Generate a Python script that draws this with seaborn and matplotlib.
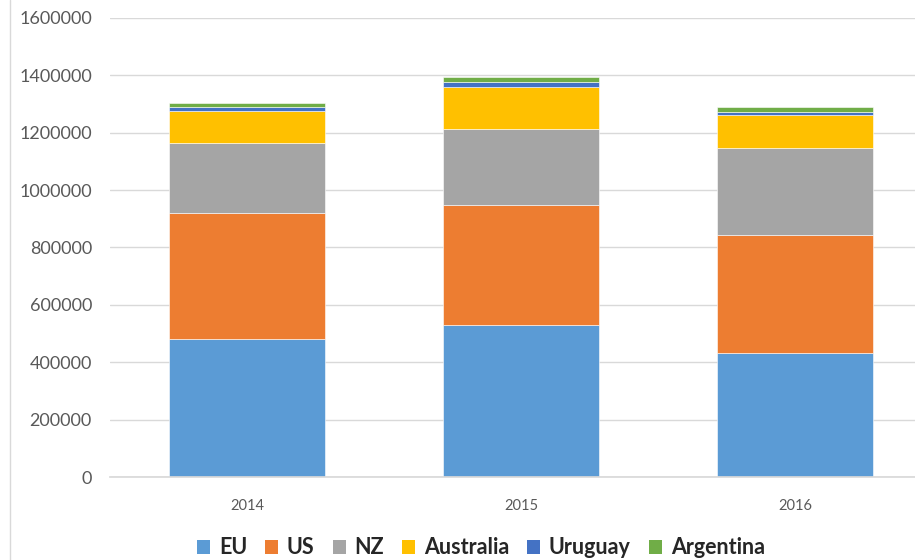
import numpy as np
import pandas as pd
import matplotlib
matplotlib.use("Agg")
import matplotlib.pyplot as plt
from matplotlib.lines import Line2D
from matplotlib.patches import Patch
import seaborn as sns

years = ["2014", "2015", "2016"]
series = ["EU", "US", "NZ", "Australia", "Uruguay", "Argentina"]
eu = [480000, 530000, 432000]
us = [440000, 418000, 412000]
nz = [244000, 265000, 302000]
australia = [113000, 145000, 115000]
uruguay = [14000, 19000, 10000]
argentina = [12000, 17000, 18000]
colors = ["#5B9BD5", "#ED7D31", "#A5A5A5", "#FFC000", "#4472C4", "#70AD47"]

values = [eu, us, nz, australia, uruguay, argentina]

sns.set_theme(style="white")
plt.rcParams['font.family'] = ['Lato', 'DejaVu Sans']

fig = plt.figure(figsize=(9.15, 5.6), dpi=100)
ax = fig.add_axes([110 / 915, 83 / 560, 822 / 915, 459 / 560])

bottom = np.zeros(len(years))
for name, vals, c in zip(series, values, colors):
    sns.barplot(x=years, y=vals, bottom=bottom, color=c, width=0.57,
                saturation=1, edgecolor="white", linewidth=0.4, ax=ax)
    bottom = bottom + np.array(vals)

ax.set_ylim(0, 1600000)
ax.set_yticks(np.arange(0, 1600001, 200000))
ax.set_yticklabels([str(v) for v in range(0, 1600001, 200000)])
ax.yaxis.grid(True, color="#D9D9D9", linewidth=1)
ax.set_axisbelow(True)
for s in ["top", "right", "left"]:
    ax.spines[s].set_visible(False)
ax.spines["bottom"].set_color("#D9D9D9")
ax.tick_params(axis="y", labelsize=13, colors="#595959", pad=13, length=0)
ax.tick_params(axis="x", labelsize=10.5, colors="#595959", pad=16, length=0)
ax.set_xlabel("")
ax.set_ylabel("")

fig.add_artist(Line2D([10 / 915, 10 / 915], [0, 1], transform=fig.transFigure,
                      color="#D9D9D9", linewidth=1))

handles = [Patch(facecolor=c, edgecolor="none") for c in colors]
fig.legend(handles, series, loc="center", bbox_to_anchor=(481 / 915, 1 - 548 / 560),
           ncol=6, frameon=False, handlelength=0.6, handleheight=0.6,
           handletextpad=0.4, columnspacing=0.85,
           prop={"weight": "bold", "size": 15.5, "family": ["Lato", "DejaVu Sans"]})

fig.savefig("out.png", dpi=100)
